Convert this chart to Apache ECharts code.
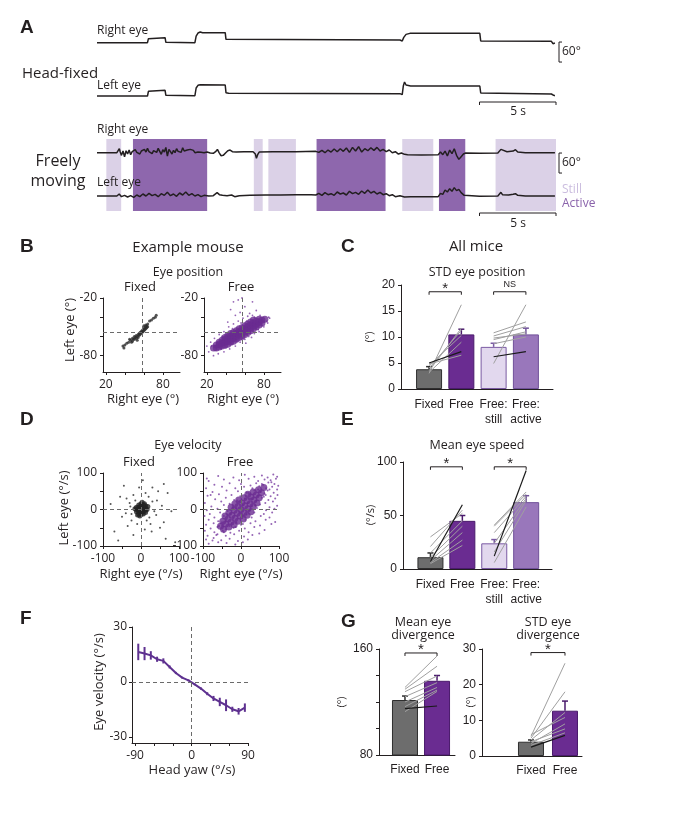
<!DOCTYPE html>
<html>
<head>
<meta charset="utf-8">
<script src="https://cdn.jsdelivr.net/npm/echarts@6.0.0/dist/echarts.min.js"></script>
<style>
html,body{margin:0;padding:0;background:#fff;}
#main{width:679px;height:818px;}
</style>
</head>
<body>
<div id="main"></div>
<script>
// ---------- A: eye traces, [time (s), angle (deg, relative to start)] ----------
const hfRight = [[0,0],[3.3,0],[3.36,12],[3.45,15],[4.45,15],[4.5,1],[4.56,0],[6.4,0],[6.48,20],[6.6,29],[6.75,32],[6.9,30],[8.38,30],[8.43,10],[12,9.5],[16,9],[19.8,8],[19.95,5],[20.05,16],[20.2,25],[20.45,28],[25.02,28],[25.08,5],[29.7,4],[29.76,8],[29.8,-3],[29.93,-1]];
const hfLeft = [[0,0],[3.3,0],[3.36,14],[3.45,18],[4.45,17],[4.5,2],[4.56,1],[6.4,1],[6.48,24],[6.6,32],[6.75,34],[8.38,33],[8.43,10],[8.6,8],[19.8,7],[19.95,4],[20.02,30],[20.1,42],[20.2,33],[20.5,30],[25.02,30],[25.08,9],[25.2,7],[29.7,6],[29.78,10],[29.85,2],[29.93,1]];
const freeRight = [[0,0],[1.3,0],[1.4,3],[1.46,12],[1.52,2],[1.6,-8],[1.7,5],[1.8,-12],[1.9,6],[2.0,-4],[2.1,8],[2.2,-6],[2.3,3],[2.4,-3],[2.5,9],[2.6,1],[2.7,6],[2.8,-4],[2.9,5],[3.0,-1],[3.1,10],[3.2,2],[3.3,13],[3.4,3],[3.5,7],[3.6,-3],[3.7,6],[3.8,11],[3.9,1],[4.0,13],[4.1,4],[4.2,-5],[4.3,9],[4.4,2],[4.5,16],[4.6,-10],[4.7,10],[4.8,3],[4.9,-4],[5.0,7],[5.1,0],[5.2,12],[5.3,4],[5.4,9],[5.5,1],[5.6,15],[5.7,5],[5.8,0],[5.9,8],[6.0,2],[6.1,10],[6.2,4],[6.3,7],[6.4,0],[6.5,6],[6.6,2],[6.7,8],[6.8,1],[6.9,4],[7.0,0],[7.2,2],[7.4,-1],[7.6,-2],[7.75,3],[7.87,10],[7.97,1],[8.1,-9],[8.25,-8],[8.4,-1],[8.55,6],[8.7,8],[8.85,3],[9.1,2],[9.6,3],[10.2,3],[10.35,-4],[10.42,-17],[10.5,-6],[10.6,2],[11.5,3],[13,3],[14.3,4],[14.5,1],[14.7,7],[14.9,0],[15.1,8],[15.3,2],[15.5,11],[15.7,3],[15.9,12],[16.1,4],[16.3,14],[16.5,1],[16.7,16],[16.9,5],[17.1,18],[17.3,2],[17.5,12],[17.7,6],[17.9,15],[18.1,7],[18.3,16],[18.5,5],[18.7,10],[18.9,3],[19.1,8],[19.3,0],[19.5,3],[19.7,-4],[19.9,-1],[20.1,-5],[20.3,-6],[21.2,-7],[22.3,-6],[22.45,2],[22.6,-6],[22.75,5],[22.9,-10],[23.05,8],[23.2,-3],[23.35,12],[23.5,-8],[23.65,-20],[23.8,-12],[23.95,-4],[24.1,-1],[25,-2],[26.2,-1],[26.3,5],[26.4,10],[26.5,4],[26.8,3],[27.2,5],[27.35,9],[27.5,2],[28,0],[29.93,0]];
const freeLeft = [[0,0],[1.3,0],[1.45,6],[1.6,-2],[1.8,2],[2.0,-3],[2.2,1],[2.4,-4],[2.6,3],[2.8,-2],[3.0,6],[3.2,0],[3.4,8],[3.6,1],[3.8,5],[4.0,-2],[4.2,7],[4.4,2],[4.6,11],[4.8,1],[5.0,6],[5.2,-1],[5.4,9],[5.6,3],[5.8,12],[6.0,2],[6.2,7],[6.4,0],[6.6,4],[6.8,-2],[7.0,2],[7.3,0],[7.6,1],[7.85,10],[8.0,4],[8.2,2],[8.5,1],[8.8,3],[9.0,-2],[9.3,1],[10,2],[11,3],[12,3],[13,4],[14,4],[14.3,3],[14.5,8],[14.7,2],[14.9,10],[15.1,4],[15.3,7],[15.5,2],[15.7,12],[15.9,6],[16.1,9],[16.3,3],[16.5,14],[16.7,7],[16.9,11],[17.1,5],[17.3,15],[17.5,8],[17.7,18],[17.9,9],[18.1,14],[18.3,6],[18.5,11],[18.7,4],[18.9,7],[19.1,1],[19.3,4],[19.5,-2],[19.8,1],[20.1,-3],[20.5,-2],[21,-2],[22.3,-2],[22.45,8],[22.6,5],[22.75,18],[22.9,12],[23.05,22],[23.2,14],[23.35,25],[23.5,16],[23.65,20],[23.8,10],[24.0,2],[24.1,-2],[25,-1],[26.2,0],[26.3,6],[26.4,11],[26.5,4],[26.9,3],[27.2,5],[27.35,7],[27.5,2],[28,0],[29.93,0]];
const stillBouts = [[0.61,1.58],[10.25,10.83],[11.2,13.0],[19.95,21.98],[26.05,30.0]];
const activeBouts = [[2.35,7.2],[14.35,18.86],[22.35,24.07]];

// ---------- B: eye position, [right eye, left eye] (deg) ----------
const bFixed = [[38,-70],[39,-72],[40,-69],[42,-67],[44,-66],[45,-63],[46,-64],[47,-66],[48,-62],[49,-63],[50,-60],[50,-63],[51,-61],[52,-59],[52,-62],[53,-60],[54,-58],[54,-61],[55,-57],[55,-59],[56,-58],[56,-56],[57,-57],[57,-55],[58,-56],[58,-54],[59,-55],[59,-53],[60,-54],[60,-52],[61,-53],[61,-51],[62,-52],[62,-50],[63,-51],[63,-49],[64,-50],[62,-48],[60,-49],[64,-47],[66,-44],[68,-43],[70,-41],[72,-40],[73,-38],[53,-64],[48,-65]];
const bFreeCore = [[27,-72],[30,-72],[30,-69],[33,-71],[33,-68.5],[33,-66],[36,-70],[36,-67],[36,-64],[39,-69],[39,-66],[39,-63],[39,-61],[42,-68],[42,-65],[42,-62],[42,-59],[45,-66],[45,-63],[45,-60],[45,-57],[48,-65],[48,-62],[48,-59],[48,-56],[51,-63],[51,-60],[51,-57],[51,-54],[54,-61],[54,-58],[54,-55],[54,-52],[57,-60],[57,-57],[57,-54],[57,-51],[60,-58],[60,-55],[60,-52],[60,-49],[63,-56],[63,-53],[63,-50],[63,-47],[66,-54],[66,-51],[66,-48],[66,-45],[69,-52],[69,-49],[69,-46],[69,-43],[72,-50],[72,-47],[72,-44],[75,-48],[75,-45],[75,-42],[78,-46],[78,-43],[81,-42]];
const bFreeSparse = [[48,-24],[53,-22],[60,-29],[68,-24],[57,-20],[45,-32],[55,-35],[65,-36],[72,-33],[76,-38],[85,-40],[84,-46],[80,-50],[74,-53],[70,-57],[64,-60],[60,-63],[55,-66],[50,-70],[44,-73],[38,-76],[32,-78],[27,-80],[22,-76],[20,-70],[24,-66],[28,-62],[33,-58],[38,-55],[43,-50],[48,-47],[53,-44],[58,-41],[63,-39],[68,-38],[36,-60],[31,-66],[25,-70],[40,-72],[46,-68],[52,-65],[58,-62],[66,-57],[72,-52],[78,-49],[83,-44],[86,-41],[41,-58],[47,-52],[62,-44],[70,-40],[50,-38],[42,-45],[30,-74],[35,-73],[61,-67],[67,-61],[75,-55],[56,-46]];

// ---------- D: eye velocity, [right eye, left eye] (deg/s) ----------
const dFixedCore = [[-12,-6],[-12,0],[-12,6],[-6,-12],[-6,-6],[-6,0],[-6,6],[-6,12],[0,-14],[0,-8],[0,-2],[0,4],[0,10],[0,16],[6,-12],[6,-6],[6,0],[6,6],[6,12],[12,-8],[12,-2],[12,4],[12,10],[16,0],[-16,2],[3,20],[-3,-18],[9,16],[-9,-15],[18,8]];
const dFixedSparse = [[-55,35],[-40,-10],[-30,18],[-25,-30],[-20,40],[-35,-45],[25,-40],[30,22],[40,-15],[55,10],[60,-35],[70,45],[-70,-60],[-5,60],[10,-55],[45,50],[-50,-20],[20,35],[35,-5],[-15,25],[22,-22],[-28,8],[15,-30],[50,-50],[-10,-40],[80,-5],[-80,15],[5,80],[65,-80],[30,60],[-45,65],[90,-90],[-20,-70],[28,-60],[-60,-85],[12,45],[-38,30],[42,25],[60,70],[-25,-12]];
const dFreeCore = [[-54,-46],[-46,-54],[-48,-32],[-40,-40],[-32,-48],[-42,-18],[-34,-26],[-26,-34],[-18,-42],[-32,-8],[-24,-16],[-16,-24],[-8,-32],[-26,6],[-18,-2],[-10,-10],[-2,-18],[6,-26],[-16,16],[-8,8],[0,0],[8,-8],[16,-16],[-6,26],[2,18],[10,10],[18,2],[26,-6],[8,32],[16,24],[24,16],[32,8],[18,42],[26,34],[34,26],[42,18],[32,48],[40,40],[48,32],[46,54],[54,46],[60,60]];
const dFreeSparse = [[-60,92],[-20,88],[10,95],[35,90],[55,93],[70,88],[85,96],[95,90],[-85,78],[-45,82],[-5,80],[20,84],[45,78],[62,82],[78,80],[92,84],[-70,68],[-30,72],[0,70],[25,66],[40,72],[58,68],[72,74],[88,70],[98,65],[-92,58],[-50,62],[-15,58],[8,62],[30,58],[48,64],[66,58],[82,62],[95,55],[-75,48],[-38,52],[-8,50],[15,46],[35,52],[52,48],[70,52],[86,46],[-88,38],[-58,42],[-25,40],[-2,36],[22,42],[44,38],[62,44],[78,36],[96,40],[-68,28],[-40,32],[-18,26],[10,30],[30,28],[55,32],[72,26],[90,30],[-95,18],[-52,22],[-30,16],[-6,22],[18,18],[40,24],[64,18],[84,22],[-78,8],[-45,12],[-22,6],[5,12],[28,8],[50,14],[75,6],[95,10],[-90,-2],[-62,2],[-35,-4],[-12,4],[22,-2],[42,4],[66,-2],[88,2],[-82,-12],[-55,-8],[-28,-12],[-4,-8],[15,-14],[35,-8],[60,-12],[82,-8],[-96,-18],[-70,-22],[-45,-18],[-20,-24],[5,-18],[28,-22],[52,-18],[75,-22],[-85,-28],[-60,-32],[-38,-28],[-12,-34],[12,-28],[38,-32],[65,-28],[90,-34],[-92,-42],[-72,-38],[-50,-44],[-25,-38],[0,-42],[25,-38],[50,-44],[80,-40],[-80,-52],[-62,-48],[-40,-54],[-15,-48],[10,-52],[35,-48],[62,-56],[-95,-58],[-70,-62],[-48,-58],[-28,-64],[-5,-58],[20,-62],[48,-66],[-88,-72],[-62,-68],[-40,-72],[-18,-68],[8,-74],[30,-70],[-92,-82],[-72,-78],[-52,-84],[-30,-80],[-8,-86],[18,-82],[-85,-94],[-60,-90],[-38,-92],[-15,-96],[5,-90],[-65,-70],[-58,-45],[-45,-62],[-35,-15],[-20,-50],[-10,25],[5,-40],[20,45],[38,10],[55,70],[60,35],[75,55],[80,75],[45,55],[-75,-85],[-80,40],[-90,85],[-30,-45],[25,30],[-50,-35],[65,40]];

// ---------- C, E, G: bar summaries (all mice) ----------
const barCats = ['Fixed', 'Free', 'Free:\nstill', 'Free:\nactive'];
const cMeans = [3.8, 10.5, 8.1, 10.5];
const cSem = [0.5, 1.0, 0.7, 1.2];
const cMiceFixed = [3.0, 3.5, 4.0, 4.5, 3.2, 4.8, 5.0];
const cMiceFree = [16.2, 11.7, 11.3, 10.3, 9.0, 6.5, 7.2];
const cMiceStill = [4.9, 10.8, 10.2, 9.5, 8.7, 9.8, 6.2];
const cMiceActive = [16.2, 12.9, 12.0, 11.0, 10.0, 10.6, 7.2];
const eMeans = [11, 45, 24, 62.5];
const eSem = [4, 5, 3.5, 6];
const eMiceFixed = [30, 21, 15, 11, 8, 6, 5, 7];
const eMiceFree = [52, 55, 45, 40, 34, 27, 22, 60];
const eMiceStill = [41, 40, 34, 24, 16, 6, 12];
const eMiceActive = [72, 70, 68, 66, 64, 58, 92];
const gDivMeans = [121.5, 136];
const gDivSem = [3, 4];
const gDivFixed = [131, 129.6, 127.8, 124, 120, 116.5, 112.7, 115];
const gDivFree = [154.7, 147, 139.6, 134.6, 131, 129, 128, 117];
const gStdMeans = [4.0, 12.7];
const gStdSem = [0.5, 2.7];
const gStdFixed = [5.5, 5, 4.5, 6, 3.5, 4, 3, 2.5];
const gStdFree = [26, 18, 12.2, 10.8, 9, 7.6, 6.5, 5.8];

// ---------- F: eye velocity vs head yaw ----------
const yawBins = [-85,-75,-65,-55,-45,-35,-25,-15,-5,5,15,25,35,45,55,65,75,85];
const eyeVel = [16.4,15.5,14.5,12.4,11.5,8.2,4.9,2.4,0.9,-1.3,-3.6,-6.4,-9,-10.9,-12.7,-14.9,-16,-14];
const eyeVelErr = [4.5,3.6,2.3,1.4,1.4,0.8,0.6,0.5,0.5,0.5,0.6,0.8,1.4,2.3,3.2,1.4,1.8,2.3];

const INK = '#231f20';
const STILL = '#dbd1e7', ACTIVE = '#8e67ad';
const PURPLE = '#6a2c91';
const barFill = ['#6d6d6d', PURPLE, '#e2d8ee', '#9977bb'];
const barLine = ['#2e2e2e', '#4a1a6c', '#7a5aa3', '#70519a'];

const chart = echarts.init(document.getElementById('main'));
const grids = [], xAxes = [], yAxes = [], series = [];

function addGrid(left, top, width, height, xa, ya) {
  const gi = grids.length;
  grids.push({left: left, top: top, width: width, height: height, containLabel: false, outerBoundsMode: 'none'});
  xa.gridIndex = gi; ya.gridIndex = gi;
  xAxes.push(xa); yAxes.push(ya);
  return gi;
}
function hidden(min, max) {
  return {type: 'value', min: min, max: max, show: false};
}
function ax(min, max, o) {
  o = o || {};
  return {
    type: 'value', min: min, max: max, interval: o.interval,
    axisLine: {show: true, onZero: false, lineStyle: {color: INK, width: 1}},
    axisTick: {show: o.noTick ? false : true, length: 3, lineStyle: {color: INK}, customValues: o.ticks},
    axisLabel: {show: true, customValues: o.labels, formatter: o.fmt, fontFamily: o.font || 'Open Sans',
      fontSize: o.size || 12, color: INK, margin: o.margin || 5, lineHeight: o.lh || 14},
    splitLine: {show: false}
  };
}
const dashed = {type: [4, 3], color: '#6b6b6b', width: 1};
function guides(xv, yv) {
  return {silent: true, symbol: 'none', label: {show: false}, lineStyle: dashed,
    data: [{xAxis: xv}, {yAxis: yv}]};
}
function trace(gi, data) {
  series.push({type: 'line', xAxisIndex: gi, yAxisIndex: gi, data: data, showSymbol: false, symbol: 'none',
    lineStyle: {color: INK, width: 1.5}, silent: true, z: 3});
}
function scatter(gi, data, size, color, mark) {
  const s = {type: 'scatter', xAxisIndex: gi, yAxisIndex: gi, data: data, symbolSize: size,
    itemStyle: {color: color}, silent: true};
  if (mark) s.markLine = mark;
  series.push(s);
}
function bars(gi, means, sems) {
  series.push({type: 'bar', xAxisIndex: gi, yAxisIndex: gi, barWidth: 26, silent: true, z: 2,
    data: means.map((m, i) => ({value: [i + 1, m], itemStyle: {color: barFill[i], borderColor: barLine[i], borderWidth: 1}}))});
  series.push({type: 'custom', xAxisIndex: gi, yAxisIndex: gi, silent: true, z: 3,
    data: means.map((m, i) => [i + 1, m, sems[i]]),
    renderItem: (p, api) => {
      const a = api.coord([api.value(0), api.value(1)]);
      const b = api.coord([api.value(0), api.value(1) + api.value(2)]);
      const c = barLine[p.dataIndex];
      return {type: 'group', children: [
        {type: 'line', shape: {x1: a[0], y1: a[1], x2: b[0], y2: b[1]}, style: {stroke: c, lineWidth: 1.5}},
        {type: 'line', shape: {x1: b[0] - 3, y1: b[1], x2: b[0] + 3, y2: b[1]}, style: {stroke: c, lineWidth: 1.5}}
      ]};
    }});
}
function mice(gi, xa, xb, va, vb) {
  series.push({type: 'custom', xAxisIndex: gi, yAxisIndex: gi, silent: true, z: 5,
    data: va.map((v, i) => [xa, v, xb, vb[i], i === va.length - 1 ? 1 : 0]),
    renderItem: (p, api) => {
      const a = api.coord([api.value(0), api.value(1)]);
      const b = api.coord([api.value(2), api.value(3)]);
      const ex = api.value(4) === 1;
      return {type: 'line', shape: {x1: a[0], y1: a[1], x2: b[0], y2: b[1]},
        style: {stroke: ex ? '#1a1a1a' : '#a0a0a0', lineWidth: ex ? 1.2 : 1}};
    }});
}
function bracket(gi, x1, x2, y, label) {
  const star = label === '*';
  series.push({type: 'custom', xAxisIndex: gi, yAxisIndex: gi, silent: true, z: 6,
    data: [[x1, y, x2]],
    renderItem: (p, api) => {
      const a = api.coord([api.value(0), api.value(1)]);
      const b = api.coord([api.value(2), api.value(1)]);
      return {type: 'group', children: [
        {type: 'polyline', shape: {points: [[a[0], a[1] + 3], [a[0], a[1]], [b[0], b[1]], [b[0], b[1] + 3]]},
          style: {stroke: INK, lineWidth: 1, fill: null}},
        {type: 'text', x: (a[0] + b[0]) / 2, y: a[1] - (star ? 3 : 7),
          style: {text: label, fontSize: star ? 15 : 9, fontFamily: 'Liberation Sans', fill: INK,
            align: 'center', verticalAlign: 'middle', textAlign: 'center', textVerticalAlign: 'middle'}}
      ]};
    }});
}

// ----- A -----
const gHR = addGrid(97, 30.7, 459, 18, hidden(0, 30), hidden(-18, 36));
const gHL = addGrid(97, 81, 459, 18, hidden(0, 30), hidden(-9, 45));
const gBox = addGrid(97, 139, 459, 72, hidden(0, 30), hidden(0, 1));
const gFR = addGrid(97, 142.7, 459, 24, hidden(0, 30), hidden(-42, 30));
const gFL = addGrid(97, 186, 459, 24, hidden(0, 30), hidden(-42, 30));
series.push({type: 'custom', xAxisIndex: gBox, yAxisIndex: gBox, silent: true, z: 1,
  data: stillBouts.map(b => [b[0], 0, b[1], 0]).concat(activeBouts.map(b => [b[0], 0, b[1], 1])),
  renderItem: (p, api) => {
    const a = api.coord([api.value(0), 1]);
    const b = api.coord([api.value(2), 0]);
    return {type: 'rect', shape: {x: a[0], y: a[1], width: b[0] - a[0], height: b[1] - a[1]},
      style: {fill: api.value(3) === 1 ? ACTIVE : STILL}};
  }});
trace(gHR, hfRight);
trace(gHL, hfLeft);
trace(gFR, freeRight);
trace(gFL, freeLeft);

// ----- B -----
const bX = {ticks: [20, 40, 60, 80], labels: [20, 80], margin: 6};
const bY = {ticks: [-20, -40, -60, -80], labels: [-20, -80], margin: 6};
const gBF = addGrid(103, 298, 77, 74, ax(17, 98, bX), ax(-97, -20, bY));
const gBR = addGrid(204, 298, 77, 74, ax(17, 98, bX), ax(-97, -20, bY));
scatter(gBF, bFixed, 3, '#2a2a2a', guides(58, -56));
scatter(gBR, bFreeSparse, 1.8, '#7a3fa3', guides(57, -56));
scatter(gBR, bFreeCore, 7, PURPLE);

// ----- D -----
const dA = {interval: 50, labels: [-100, 0, 100], margin: 6};
const gDF = addGrid(103, 473, 76, 73, ax(-100, 100, dA), ax(-100, 100, dA));
const gDR = addGrid(203, 473, 76, 73, ax(-100, 100, dA), ax(-100, 100, dA));
scatter(gDF, dFixedSparse, 2, '#2a2a2a', guides(0, 0));
scatter(gDF, dFixedCore, 5, '#222');
scatter(gDR, dFreeSparse, 2, '#7a3fa3', guides(0, 0));
scatter(gDR, dFreeCore, 7, PURPLE);

// ----- C and E -----
const catX = {noTick: true, labels: [1, 2, 3, 4], fmt: v => barCats[Math.round(v) - 1],
  font: 'Liberation Sans', size: 12, margin: 8, lh: 15};
const gC = addGrid(401, 285, 152, 104, ax(0.13, 4.84, catX),
  ax(0, 20, {interval: 5, font: 'Liberation Sans', size: 12, margin: 6}));
bars(gC, cMeans, cSem);
mice(gC, 1, 2, cMiceFixed, cMiceFree);
mice(gC, 3, 4, cMiceStill, cMiceActive);
bracket(gC, 1, 2, 18.7, '*');
bracket(gC, 3, 4, 18.7, 'NS');

const gE = addGrid(403, 462, 149, 107, ax(0.14, 4.81, catX),
  ax(0, 100, {interval: 50, font: 'Liberation Sans', size: 12, margin: 6}));
bars(gE, eMeans, eSem);
mice(gE, 1, 2, eMiceFixed, eMiceFree);
mice(gE, 3, 4, eMiceStill, eMiceActive);
bracket(gE, 1, 2, 95.5, '*');
bracket(gE, 3, 4, 95.5, '*');

// ----- F -----
const gF = addGrid(132, 627, 116, 116,
  ax(-95, 90, {ticks: [-90, -60, -30, 0, 30, 60, 90], labels: [-90, 0, 90], margin: 6}),
  ax(-33.3, 30, {ticks: [-30, 0, 30], labels: [-30, 0, 30], margin: 5}));
series.push({type: 'line', xAxisIndex: gF, yAxisIndex: gF, showSymbol: false, symbol: 'none', silent: true, z: 3,
  data: yawBins.map((x, i) => [x, eyeVel[i]]), lineStyle: {color: '#5e3190', width: 2},
  markLine: guides(0, 0)});
series.push({type: 'custom', xAxisIndex: gF, yAxisIndex: gF, silent: true, z: 4,
  data: yawBins.map((x, i) => [x, eyeVel[i], eyeVelErr[i]]),
  renderItem: (p, api) => {
    const a = api.coord([api.value(0), api.value(1) - api.value(2)]);
    const b = api.coord([api.value(0), api.value(1) + api.value(2)]);
    return {type: 'line', shape: {x1: a[0], y1: a[1], x2: b[0], y2: b[1]}, style: {stroke: '#5e3190', lineWidth: 2}};
  }});

// ----- G -----
const gX = {noTick: true, labels: [1, 2], fmt: v => barCats[Math.round(v) - 1], font: 'Liberation Sans', size: 12, margin: 8};
const gGL = addGrid(379, 649, 76, 106, ax(0.19, 2.56, gX),
  ax(80, 160, {interval: 20, labels: [80, 160], font: 'Liberation Sans', size: 12, margin: 6}));
bars(gGL, gDivMeans, gDivSem);
mice(gGL, 1, 2, gDivFixed, gDivFree);
bracket(gGL, 1, 2, 157, '*');
const gGR = addGrid(482, 649, 100, 107, ax(-0.44, 2.5, gX),
  ax(0, 30, {interval: 10, font: 'Liberation Sans', size: 12, margin: 6}));
bars(gGR, gStdMeans, gStdSem);
mice(gGR, 1, 2, gStdFixed, gStdFree);
bracket(gGR, 1, 2, 29, '*');

chart.setOption({
  animation: false,
  backgroundColor: '#fff',
  grid: grids, xAxis: xAxes, yAxis: yAxes, series: series
});

// ----- text and scale bars -----
function T(text, x, y, size, o) {
  o = o || {};
  const el = {type: 'text', x: x, y: y, z: 100, silent: true,
    style: {text: text, fontSize: size, fontFamily: o.font || 'Open Sans', fontWeight: o.weight || 'normal',
      fill: o.color || INK, align: o.align || 'center', verticalAlign: 'middle',
      textAlign: o.align || 'center', textVerticalAlign: 'middle'}};
  if (o.rot) el.rotation = Math.PI / 2;
  return el;
}
const L = {align: 'left'};
const bold = {align: 'left', weight: 'bold', font: 'Liberation Sans'};
const g = [
  T('A', 20, 28, 19, bold), T('B', 20, 247, 19, bold), T('C', 341, 247, 19, bold),
  T('D', 20, 420, 19, bold), T('E', 341, 420, 19, bold), T('F', 20, 619, 19, bold), T('G', 341, 622, 19, bold),
  T('Right eye', 97, 31, 12, L), T('Head-fixed', 22, 74, 15, L), T('Left eye', 97, 86, 12, L),
  T('5 s', 518, 112, 12), T('60°', 562, 52, 12, L),
  T('Right eye', 97, 130, 12, L), T('Freely', 58, 161, 16), T('moving', 58, 181, 16),
  T('Left eye', 97, 183, 12, L), T('60°', 562, 163, 12, L),
  T('Still', 562, 190, 12, {align: 'left', color: '#cbbddf'}), T('Active', 562, 204, 12, {align: 'left', color: '#8a63ab'}),
  T('5 s', 518, 224, 12),
  T('Example mouse', 188, 248, 15), T('Eye position', 188, 272, 12.5),
  T('Fixed', 140, 287, 13), T('Free', 241, 287, 13),
  T('Left eye (°)', 70, 330, 13, {rot: true}),
  T('Right eye (°)', 143, 399, 13), T('Right eye (°)', 243, 399, 13),
  T('All mice', 476, 247, 15), T('STD eye position', 477, 272, 12.5),
  T('(°)', 370, 337, 11, {rot: true}),
  T('Eye velocity', 188, 445, 12.5), T('Fixed', 139, 462, 13), T('Free', 240, 462, 13),
  T('Left eye (°/s)', 64, 508, 13, {rot: true}),
  T('Right eye (°/s)', 141, 574, 13), T('Right eye (°/s)', 241, 574, 13),
  T('Mean eye speed', 477, 445, 12.5), T('(°/s)', 371, 515, 11, {rot: true}),
  T('Eye velocity (°/s)', 99, 682, 13, {rot: true}), T('Head yaw (°/s)', 192, 770, 13),
  T('Mean eye', 423, 622, 12.5), T('divergence', 423, 635, 12.5),
  T('STD eye', 548, 622, 12.5), T('divergence', 548, 635, 12.5),
  T('(°)', 342, 702, 11, {rot: true}), T('(°)', 471, 702, 11, {rot: true})
];
function seg(x1, y1, x2, y2) {
  return {type: 'line', z: 100, silent: true, shape: {x1: x1, y1: y1, x2: x2, y2: y2}, style: {stroke: INK, lineWidth: 1}};
}
const sx0 = chart.convertToPixel({xAxisIndex: gHR}, 25);
const sx1 = chart.convertToPixel({xAxisIndex: gHR}, 30);
[102, 213].forEach(y => {
  g.push(seg(sx0, y, sx1, y), seg(sx0, y, sx0, y + 3), seg(sx1, y, sx1, y + 3));
});
[[gHR, 2, -58], [gFR, -1, -61]].forEach(b => {
  const yt = chart.convertToPixel({yAxisIndex: b[0]}, b[1]);
  const yb = chart.convertToPixel({yAxisIndex: b[0]}, b[2]);
  const x = sx1 + 3;
  g.push(seg(x, yt, x, yb), seg(x, yt, x + 3, yt), seg(x, yb, x + 3, yb));
});
chart.setOption({graphic: g});
</script>
</body>
</html>
